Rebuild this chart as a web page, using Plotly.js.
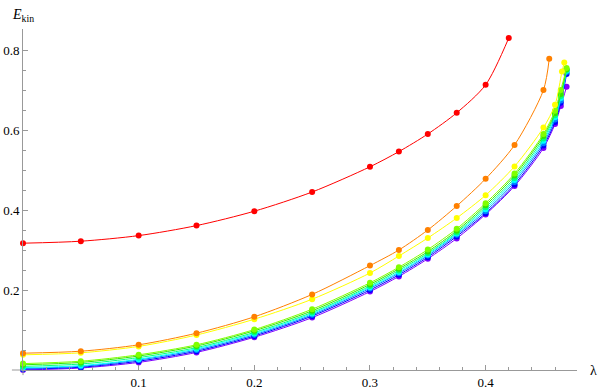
<!DOCTYPE html>
<html><head><meta charset="utf-8">
<script src="https://cdn.plot.ly/plotly-3.0.1.min.js"></script>
<style>html,body{margin:0;padding:0;background:#fff}#plot{width:599px;height:392px}</style>
</head><body><div id="plot"></div>
<script>
// lambda grids
const lamRed = [0,0.05,0.1,0.15,0.2,0.25,0.3,0.325,0.35,0.375,0.4,0.42];
const lamOrange = [0,0.05,0.1,0.15,0.2,0.25,0.3,0.325,0.35,0.375,0.4,0.425,0.45,0.455];
const lamYellow = [0,0.05,0.1,0.15,0.2,0.25,0.3,0.325,0.35,0.375,0.4,0.425,0.45,0.46,0.466,0.468];
const lamRest = [0,0.05,0.1,0.15,0.2,0.25,0.3,0.325,0.35,0.375,0.4,0.425,0.45,0.46,0.465,0.47];

// E_kin values per series
const eRed = [0.317,0.322,0.336,0.361,0.397,0.445,0.508,0.546,0.59,0.643,0.713,0.83];
const eOrange = [0.042,0.047,0.063,0.092,0.133,0.189,0.261,0.30,0.35,0.41,0.478,0.5625,0.70,0.778];
const eYellow = [0.038,0.043,0.059,0.0875,0.127,0.177,0.2425,0.285,0.33,0.38,0.437,0.509,0.606,0.663,0.746,0.769];
const eChartreuse = [0.016,0.022,0.038,0.063,0.101,0.152,0.218,0.257,0.301,0.353,0.417,0.491,0.59,0.648,0.70,0.755];
const eGreen = [0.013,0.019,0.035,0.060,0.098,0.148,0.214,0.253,0.296,0.348,0.412,0.486,0.585,0.642,0.69,0.752];
const eSpring = [0.009,0.015,0.031,0.056,0.094,0.144,0.210,0.249,0.292,0.344,0.407,0.48,0.579,0.637,0.685,0.75];
const eCyan = [0.006,0.011,0.027,0.053,0.091,0.141,0.207,0.245,0.289,0.341,0.402,0.475,0.573,0.632,0.68,0.748];
const eAzure = [0.004,0.009,0.025,0.050,0.088,0.138,0.204,0.242,0.286,0.338,0.397,0.47,0.567,0.626,0.674,0.745];
const eBlue = [0.002,0.007,0.022,0.047,0.085,0.135,0.200,0.238,0.282,0.334,0.392,0.464,0.561,0.62,0.668,0.74];
const eViolet = [0.000,0.005,0.019,0.044,0.082,0.131,0.196,0.234,0.278,0.329,0.389,0.46,0.555,0.615,0.66,0.708];

const xTicks = [0.1,0.2,0.3,0.4];
const xTickText = ['0.1','0.2','0.3','0.4'];
const yTicks = [0.2,0.4,0.6,0.8];
const yTickText = ['0.2','0.4','0.6','0.8'];
const xMinor = [0.02,0.04,0.06,0.08,0.12,0.14,0.16,0.18,0.22,0.24,0.26,0.28,0.32,0.34,0.36,0.38,0.42,0.44,0.46];
const yMinor = [0.05,0.1,0.15,0.25,0.3,0.35,0.45,0.5,0.55,0.65,0.7,0.75,0.85];

const series = [
  {x: lamRest, y: eViolet, c: '#8000FF'},
  {x: lamRest, y: eBlue, c: '#0000FF'},
  {x: lamRest, y: eAzure, c: '#0080FF'},
  {x: lamRest, y: eCyan, c: '#00FFFF'},
  {x: lamRest, y: eSpring, c: '#00FF80'},
  {x: lamRest, y: eGreen, c: '#33E600'},
  {x: lamRest, y: eChartreuse, c: '#80FF00'},
  {x: lamYellow, y: eYellow, c: '#FFFF00'},
  {x: lamOrange, y: eOrange, c: '#FF8000'},
  {x: lamRed, y: eRed, c: '#FF0000'}
];

const traces = series.map(s => ({
  x: s.x, y: s.y, type: 'scatter', mode: 'lines+markers',
  line: {color: s.c, width: 1, shape: 'spline', smoothing: 0.8},
  marker: {color: s.c, size: 6},
  hoverinfo: 'skip', showlegend: false, cliponaxis: false
}));

const serif = '"Liberation Serif", serif';
const axisFont = {family: serif, size: 13, color: '#000'};
const layout = {
  width: 599, height: 392,
  margin: {l: 23, r: 22, t: 29, b: 22},
  paper_bgcolor: '#fff', plot_bgcolor: '#fff',
  font: {family: serif},
  xaxis: {range: [0, 0.479], showgrid: false, zeroline: false, showline: true,
    linecolor: '#999', linewidth: 1, ticks: 'inside', ticklen: 5, tickcolor: '#999',
    tickvals: xTicks, ticktext: xTickText, tickfont: axisFont,
    minor: {tickvals: xMinor, ticks: 'inside', ticklen: 3, tickcolor: '#999', showgrid: false}},
  yaxis: {range: [0, 0.8525], showgrid: false, zeroline: false, showline: true,
    linecolor: '#999', linewidth: 1, ticks: 'inside', ticklen: 5, tickcolor: '#999',
    tickvals: yTicks, ticktext: yTickText, tickfont: axisFont,
    minor: {tickvals: yMinor, ticks: 'inside', ticklen: 3, tickcolor: '#999', showgrid: false}},
  shapes: [
    {type: 'line', xref: 'paper', yref: 'paper', x0: -0.02, x1: 0, y0: 0, y1: 0, line: {color: '#999', width: 1}},
    {type: 'line', xref: 'paper', yref: 'paper', x0: 0, x1: 0, y0: -0.015, y1: 0, line: {color: '#999', width: 1}}
  ],
  annotations: [
    {xref: 'paper', yref: 'paper', x: 0, y: 1, yshift: 14, xanchor: 'center', yanchor: 'middle',
     text: '<i>E</i><sub>kin</sub>', showarrow: false, font: {family: serif, size: 14, color: '#000'}},
    {xref: 'paper', yref: 'paper', x: 1, y: 0, xshift: 16, xanchor: 'center', yanchor: 'middle',
     text: 'λ', showarrow: false, font: {family: serif, size: 14, color: '#000'}}
  ]
};
Plotly.newPlot('plot', traces, layout, {displayModeBar: false, staticPlot: true});
</script></body></html>
